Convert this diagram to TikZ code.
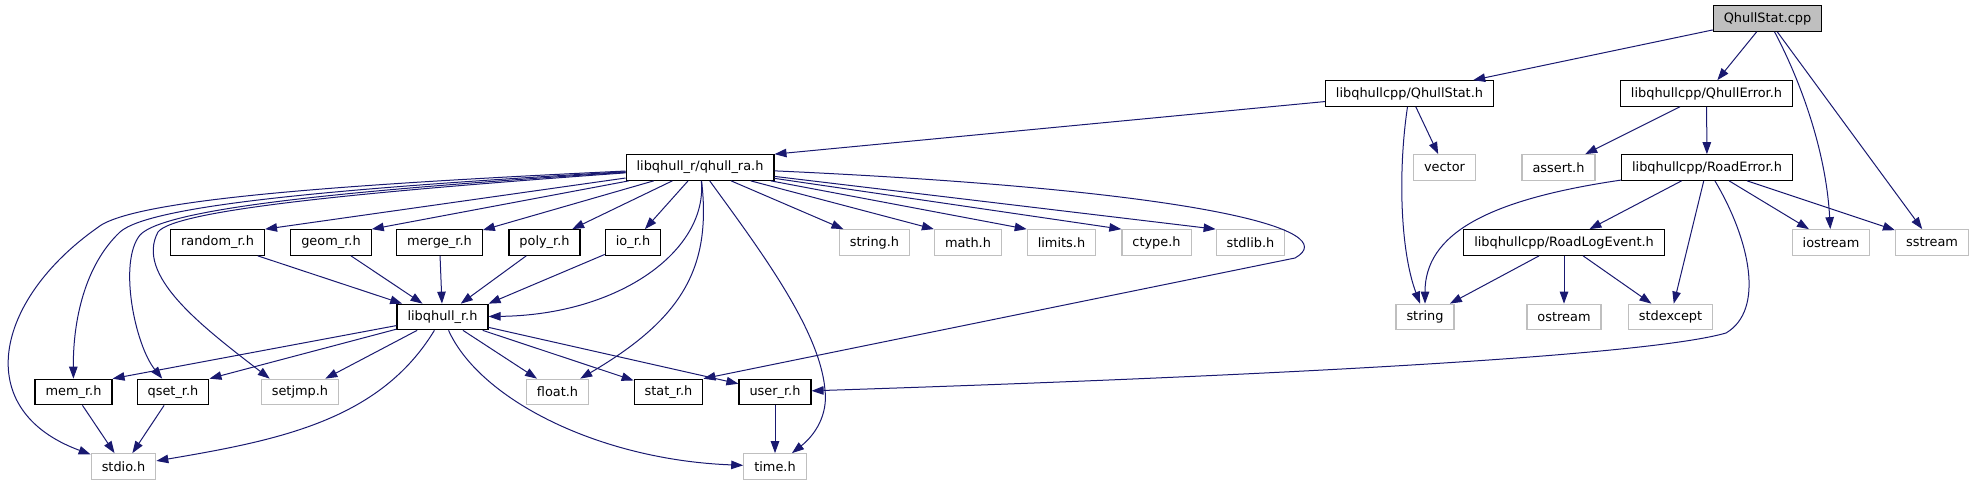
\documentclass[tikz,border=0pt]{standalone}
\usepackage{fontspec}
\setmainfont{DejaVu Sans}
\usetikzlibrary{arrows.meta}
\definecolor{edgeblue}{HTML}{191970}
\definecolor{sysgrey}{HTML}{BFBFBF}

\begin{document}
\begin{tikzpicture}[x=1pt,y=-1pt,
  hfile/.style={draw=black,fill=white,line width=1.2pt,inner xsep=10.5pt,inner ysep=0pt,minimum height=25.5pt,font=\fontsize{12.9}{15}\selectfont},
  sfile/.style={hfile,draw=sysgrey},
  incl/.style={-{Triangle[length=12pt,width=8.5pt]},color=edgeblue,line width=1pt}]
\useasboundingbox (0,0) rectangle (1975,485);
% top two rows
\node[hfile,fill=sysgrey] (cpp) at (1767.5,18.5) {QhullStat.cpp};
\node[hfile] (qstath) at (1409.5,93.5) {libqhullcpp/QhullStat.h};
\node[hfile] (qerrh) at (1706.5,93.5) {libqhullcpp/QhullError.h};
\node[hfile] (qrah) at (700,167.5) {libqhull\_r/qhull\_ra.h};
\node[sfile] (vector) at (1444.5,167.5) {vector};
\node[sfile] (asserth) at (1558.5,167.5) {assert.h};
\node[hfile] (roaderrh) at (1707,167.5) {libqhullcpp/RoadError.h};
% middle row
\node[hfile] (randomh) at (217.5,242.5) {random\_r.h};
\node[hfile] (geomh) at (331,242.5) {geom\_r.h};
\node[hfile] (mergeh) at (439.5,242.5) {merge\_r.h};
\node[hfile] (polyh) at (544.5,242.5) {poly\_r.h};
\node[hfile] (ioh) at (633,242.5) {io\_r.h};
\node[sfile] (stringh) at (874.5,242.5) {string.h};
\node[sfile] (mathh) at (968,242.5) {math.h};
\node[sfile] (limitsh) at (1061.5,242.5) {limits.h};
\node[sfile] (ctypeh) at (1156.5,242.5) {ctype.h};
\node[sfile] (stdlibh) at (1250.5,242.5) {stdlib.h};
\node[hfile] (roadlogh) at (1564,242.5) {libqhullcpp/RoadLogEvent.h};
\node[sfile] (iostream) at (1831,242.5) {iostream};
\node[sfile] (sstream) at (1932,242.5) {sstream};
\node[hfile] (libqhullh) at (442.5,317) {libqhull\_r.h};
\node[sfile] (string) at (1425,317) {string};
\node[sfile] (ostream) at (1564,317) {ostream};
\node[sfile] (stdexcept) at (1670.5,317) {stdexcept};
% bottom rows
\node[hfile] (memh) at (73.5,392) {mem\_r.h};
\node[hfile] (qseth) at (173,392) {qset\_r.h};
\node[sfile] (setjmph) at (300,392) {setjmp.h};
\node[sfile] (floath) at (557.5,392) {float.h};
\node[hfile] (stath) at (668.5,392) {stat\_r.h};
\node[hfile] (userh) at (775,392) {user\_r.h};
\node[sfile] (stdioh) at (123.5,466.5) {stdio.h};
\node[sfile] (timeh) at (775,466.5) {time.h};

% QhullStat.cpp and the C++ headers
\draw[incl] (cpp) -- (qstath);
\draw[incl] (cpp) -- (qerrh);
\draw[incl] (cpp) .. controls (1800,80) and (1826,150) .. (iostream);
\draw[incl] (cpp) -- (sstream);
\draw[incl] (qstath) -- (qrah.north east);
\draw[incl] (qstath) -- (vector);
\draw[incl] (qstath) .. controls (1398,170) and (1400,250) .. (string);
\draw[incl] (qerrh) -- (asserth);
\draw[incl] (qerrh) -- (roaderrh);
\draw[incl] (roaderrh) .. controls (1485,200) and (1425,235) .. (string);
\draw[incl] (roaderrh) -- (roadlogh);
\draw[incl] (roaderrh) -- (stdexcept);
\draw[incl] (roaderrh) -- (iostream);
\draw[incl] (roaderrh) -- (sstream);
\draw[incl] (roaderrh) .. controls (1750,240) and (1765,310) .. (1726,333) .. controls (1650,355) and (1300,375) .. (userh);
\draw[incl] (roadlogh) -- (string);
\draw[incl] (roadlogh) -- (ostream);
\draw[incl] (roadlogh) -- (stdexcept);

% qhull_ra.h
\draw[incl] (qrah) -- (randomh.north east);
\draw[incl] (qrah) -- (geomh.north east);
\draw[incl] (qrah) -- (mergeh);
\draw[incl] (qrah) -- (polyh);
\draw[incl] (qrah) -- (ioh);
\draw[incl] (qrah) .. controls (708,250) and (620,315) .. (libqhullh);
\draw[incl] (qrah) -- (stringh);
\draw[incl] (qrah) -- (mathh.north west);
\draw[incl] (qrah) -- (limitsh.north west);
\draw[incl] (qrah) -- (ctypeh.north west);
\draw[incl] (qrah) -- (stdlibh.north west);
\draw[incl] (qrah) .. controls (1200,190) and (1345,230) .. (1295,258) -- (stath.north east);
\draw[incl] (qrah) .. controls (330,185) and (130,200) .. (97,228) .. controls (-5,300) and (-30,410) .. (stdioh);
\draw[incl] (qrah) .. controls (340,188) and (150,205) .. (120,232) .. controls (85,265) and (73,320) .. (memh);
\draw[incl] (qrah) .. controls (350,190) and (165,208) .. (140,235) .. controls (118,262) and (135,345) .. (qseth);
\draw[incl] (qrah) .. controls (360,192) and (175,210) .. (158,232) .. controls (135,275) and (200,325) .. ([xshift=9pt]setjmph.north west);
\draw[incl] (qrah) .. controls (712,270) and (680,320) .. (floath);
\draw[incl] (qrah) .. controls (760,250) and (820,330) .. (825,390) .. controls (828,415) and (815,435) .. (timeh);

% libqhull_r.h and the rest
\draw[incl] (randomh) -- (libqhullh);
\draw[incl] (geomh) -- (libqhullh);
\draw[incl] (mergeh) -- (libqhullh);
\draw[incl] (polyh) -- (libqhullh);
\draw[incl] (ioh) -- (libqhullh.north east);
\draw[incl] (libqhullh) -- (memh.north east);
\draw[incl] (libqhullh) -- (qseth.north east);
\draw[incl] (libqhullh) -- (setjmph);
\draw[incl] (libqhullh) .. controls (380,420) and (280,440) .. (stdioh);
\draw[incl] (libqhullh) .. controls (480,400) and (600,460) .. (timeh);
\draw[incl] (libqhullh) -- (floath);
\draw[incl] (libqhullh) -- (stath);
\draw[incl] (libqhullh) -- (userh);
\draw[incl] (memh) -- (stdioh);
\draw[incl] (qseth) -- (stdioh);
\draw[incl] (userh) -- (timeh);
\end{tikzpicture}
\end{document}
